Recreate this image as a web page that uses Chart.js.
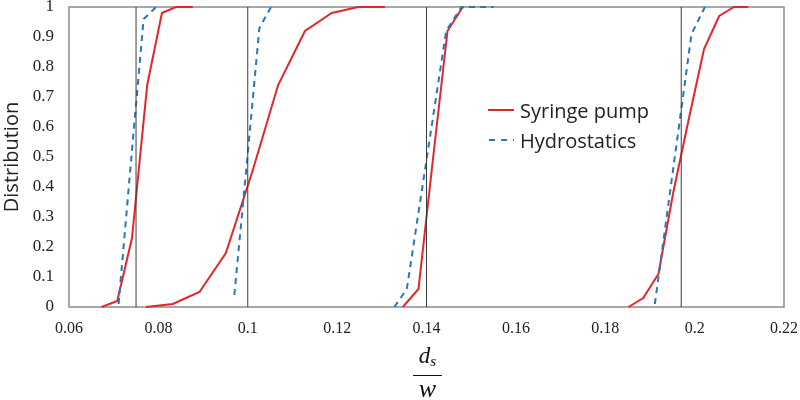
<!DOCTYPE html>
<html>
<head>
<meta charset="utf-8">
<script src="https://cdn.jsdelivr.net/npm/chart.js@4.4.1/dist/chart.umd.min.js"></script>
<style>
  html, body { margin: 0; padding: 0; background: #fff; }
  #wrap { position: relative; width: 800px; height: 400px; }
  #legend { position: absolute; left: 488px; top: 95px; font-family: "Open Sans", sans-serif; font-size: 20px; color: #222; }
  #legend .row { display: flex; align-items: center; height: 30px; }
  #legend svg { margin-right: 6px; }
  #frac { position: absolute; left: 413px; top: 342px; width: 29px; font-family: "Liberation Serif", serif; font-style: italic; color: #111; text-align: center; }
  #frac .num { font-size: 23px; line-height: 28px; border-bottom: 1.5px solid #111; }
  #frac .num sub { font-size: 15px; vertical-align: -3px; }
  #frac .den { font-size: 26px; line-height: 26px; }
</style>
</head>
<body>
<div id="wrap">
  <canvas id="distChart" width="800" height="400"></canvas>
  <div id="legend">
    <div class="row"><svg width="26" height="4"><line x1="0" y1="2" x2="26" y2="2" stroke="#e3262b" stroke-width="2"/></svg>Syringe pump</div>
    <div class="row"><svg width="26" height="4"><line x1="1" y1="2" x2="26" y2="2" stroke="#2878b8" stroke-width="2" stroke-dasharray="6,6"/></svg>Hydrostatics</div>
  </div>
  <div id="frac"><div class="num">d<sub>s</sub></div><div class="den">w</div></div>
</div>
<script>
const syringe1 = [[0.0673, 0], [0.0708, 0.02], [0.0741, 0.23], [0.0775, 0.74], [0.0808, 0.98], [0.0839, 1], [0.0877, 1]];
const syringe2 = [[0.0772, 0], [0.0832, 0.01], [0.0892, 0.05], [0.0951, 0.18], [0.1010, 0.45], [0.1068, 0.74], [0.1128, 0.92], [0.1188, 0.98], [0.1247, 1], [0.1307, 1]];
const syringe3 = [[0.1347, 0], [0.1382, 0.06], [0.1415, 0.50], [0.1447, 0.92], [0.1481, 1]];
const syringe4 = [[0.1852, 0], [0.1885, 0.03], [0.1919, 0.11], [0.1952, 0.38], [0.1986, 0.62], [0.2021, 0.86], [0.2055, 0.97], [0.2088, 1], [0.2120, 1]];

const hydro1 = [[0.0711, 0.01], [0.0739, 0.49], [0.0767, 0.96], [0.0795, 1]];
const hydro2 = [[0.0970, 0.04], [0.0998, 0.48], [0.1026, 0.93], [0.1052, 1]];
const hydro3 = [[0.1328, 0], [0.1356, 0.06], [0.1444, 0.92], [0.1478, 1], [0.1550, 1]];
const hydro4 = [[0.1911, 0.01], [0.1952, 0.46], [0.1993, 0.91], [0.2023, 1]];

// vertical marker lines
const refLines = [0.075, 0.1, 0.14, 0.197];

const xTicks = [0.06, 0.08, 0.1, 0.12, 0.14, 0.16, 0.18, 0.2, 0.22];
const yTicks = [0, 0.1, 0.2, 0.3, 0.4, 0.5, 0.6, 0.7, 0.8, 0.9, 1];

const RED = '#e3262b';
const BLUE = '#2878b8';

function toPts(arr) {
  return arr.map(p => ({ x: p[0], y: p[1] }));
}

const datasets = [];

refLines.forEach(x => {
  datasets.push({
    data: [{ x: x, y: 0 }, { x: x, y: 1 }],
    borderColor: '#3c3c3c',
    borderWidth: 1,
    pointRadius: 0,
    showLine: true
  });
});

[hydro1, hydro2, hydro3, hydro4].forEach(s => {
  datasets.push({
    data: toPts(s),
    borderColor: BLUE,
    borderWidth: 2,
    borderDash: [6, 5],
    pointRadius: 0,
    showLine: true,
    clip: 4
  });
});

[syringe1, syringe2, syringe3, syringe4].forEach(s => {
  datasets.push({
    data: toPts(s),
    borderColor: RED,
    borderWidth: 2,
    pointRadius: 0,
    showLine: true,
    clip: 4
  });
});

// grey frame round the plot area
const frameBox = {
  id: 'frameBox',
  beforeDatasetsDraw(chart) {
    const a = chart.chartArea;
    const ctx = chart.ctx;
    ctx.save();
    ctx.strokeStyle = '#8a8a8a';
    ctx.lineWidth = 1.5;
    ctx.strokeRect(a.left, a.top, a.right - a.left, a.bottom - a.top);
    ctx.restore();
  }
};

const ctx = document.getElementById('distChart').getContext('2d');

new Chart(ctx, {
  type: 'scatter',
  data: { datasets: datasets },
  plugins: [frameBox],
  options: {
    responsive: false,
    animation: false,
    layout: { padding: { top: 7, right: 16, left: 0, bottom: 0 } },
    plugins: {
      legend: { display: false },
      tooltip: { enabled: false }
    },
    scales: {
      x: {
        type: 'linear',
        min: xTicks[0],
        max: xTicks[xTicks.length - 1],
        afterBuildTicks: s => { s.ticks = xTicks.map(v => ({ value: v })); },
        afterFit: s => { s.height = 93; s.paddingLeft = 0; s.paddingRight = 0; },
        grid: { display: false, drawTicks: false },
        border: { display: false },
        ticks: {
          padding: 12,
          color: '#222',
          font: { family: 'Liberation Serif', size: 16 },
          callback: v => String(Number(v.toFixed(2)))
        }
      },
      y: {
        type: 'linear',
        min: 0,
        max: 1,
        afterBuildTicks: s => { s.ticks = yTicks.map(v => ({ value: v })); },
        afterFit: s => { s.width = 69; s.paddingTop = 0; s.paddingBottom = 0; },
        grid: { display: false, drawTicks: false },
        border: { display: false },
        title: {
          display: true,
          text: 'Distribution',
          color: '#222',
          padding: 0,
          font: { family: 'Open Sans', size: 20 }
        },
        ticks: {
          padding: 15,
          color: '#222',
          font: { family: 'Liberation Serif', size: 17 },
          callback: v => String(Math.round(v * 10) / 10)
        }
      }
    }
  }
});
</script>
</body>
</html>
